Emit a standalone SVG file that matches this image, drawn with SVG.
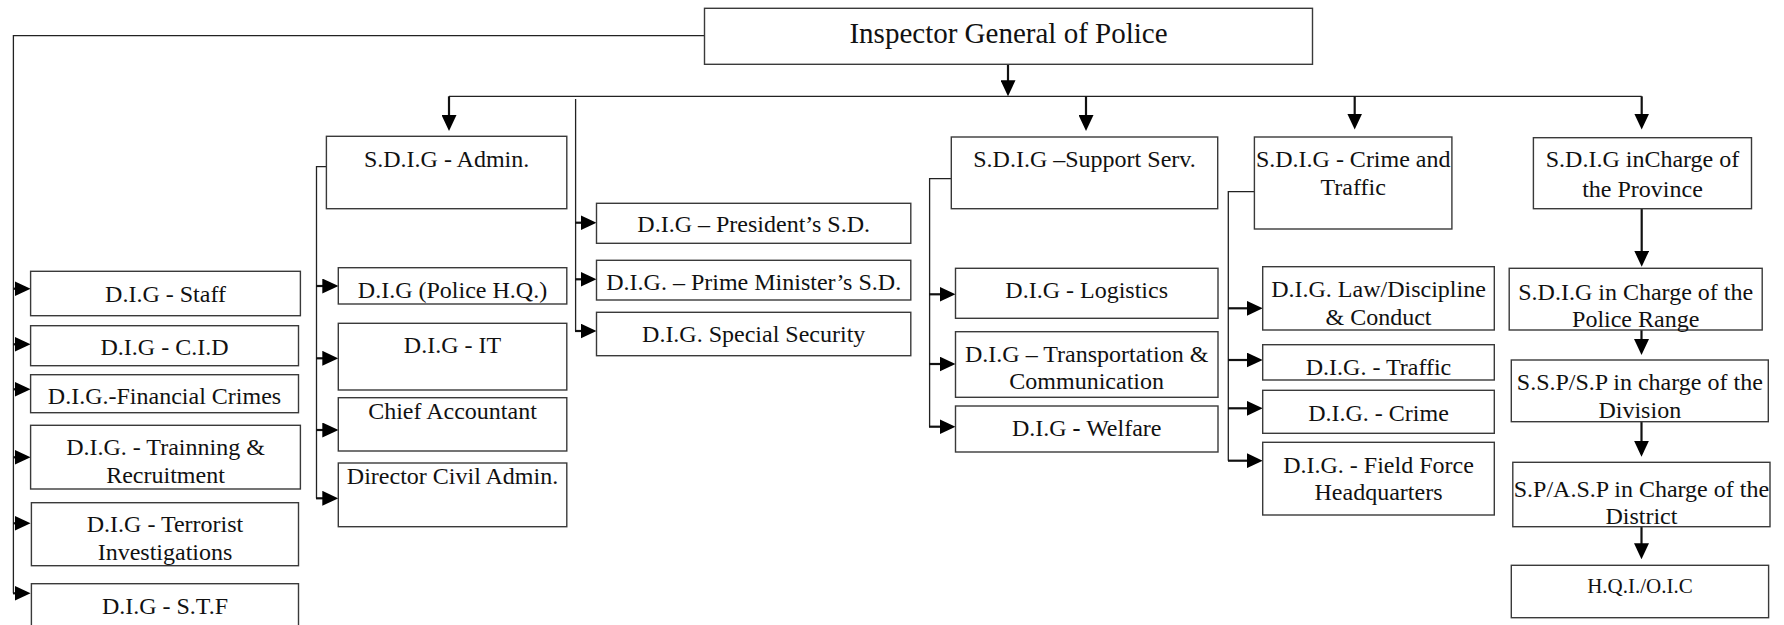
<svg xmlns="http://www.w3.org/2000/svg" width="1784" height="625" viewBox="0 0 1784 625">
  <style>
    .box { fill: #ffffff; stroke: #3a3a3a; stroke-width: 1.4; }
    .lbl { font-family: "Liberation Serif", "Times New Roman", serif; font-size: 24px; fill: #111; text-anchor: middle; }
    .big { font-size: 29px; }
    .sm { font-size: 21px; }
    .wire { fill: none; stroke: #222; stroke-width: 1.3; }
    .stub { fill: none; stroke: #111; stroke-width: 2.2; marker-end: url(#head); }
  </style>
  <defs>
    <marker id="head" markerUnits="userSpaceOnUse" viewBox="0 0 16 15" markerWidth="16" markerHeight="15" refX="8" refY="7.5" orient="auto">
      <path d="M0,0 L16,7.5 L0,15 z" fill="#000"/>
    </marker>
  </defs>

  <rect width="1784" height="625" fill="#ffffff"/>

  <!-- connectors -->
  <g id="connectors">
    <!-- IGP to left-hand column -->
    <path class="wire" d="M704.5,35.7 H13.4 V593.3"/>
    <path class="stub" d="M13,288.7 H22.6"/>
    <path class="stub" d="M13,344.3 H22.6"/>
    <path class="stub" d="M13,389.3 H22.6"/>
    <path class="stub" d="M13,457.3 H22.6"/>
    <path class="stub" d="M13,523.3 H22.6"/>
    <path class="stub" d="M13,593.3 H22.6"/>

    <!-- IGP down to the distribution bar -->
    <path class="stub" d="M1008,64.3 V88.3"/>
    <path class="wire" d="M449,96.3 H1641.7"/>
    <path class="stub" d="M449,96.3 V123"/>
    <path class="stub" d="M1086,96.3 V123"/>
    <path class="stub" d="M1354.7,96.3 V121.5"/>
    <path class="stub" d="M1641.7,96.3 V121.5"/>

    <!-- security divisions -->
    <path class="wire" d="M575.6,99 V331"/>
    <path class="stub" d="M575,222.7 H588.5"/>
    <path class="stub" d="M575,279.3 H588.5"/>
    <path class="stub" d="M575,331 H588.5"/>

    <!-- admin branch -->
    <path class="wire" d="M326.4,166.7 H316.5 V498.3"/>
    <path class="stub" d="M316,286 H330.3"/>
    <path class="stub" d="M316,358.3 H330.3"/>
    <path class="stub" d="M316,430 H330.3"/>
    <path class="stub" d="M316,498.3 H330.3"/>

    <!-- support services branch -->
    <path class="wire" d="M951.3,178.7 H929.6 V426.7"/>
    <path class="stub" d="M929,294.3 H947.5"/>
    <path class="stub" d="M929,364 H947.5"/>
    <path class="stub" d="M929,426.7 H947.5"/>

    <!-- crime and traffic branch -->
    <path class="wire" d="M1254.4,191.7 H1228.3 V460.7"/>
    <path class="stub" d="M1228,308.3 H1254.7"/>
    <path class="stub" d="M1228,360 H1254.7"/>
    <path class="stub" d="M1228,408.3 H1254.7"/>
    <path class="stub" d="M1228,460.7 H1254.7"/>

    <!-- provincial chain of command -->
    <path class="stub" d="M1641.7,208.7 V258.7"/>
    <path class="stub" d="M1641.5,315 V347"/>
    <path class="stub" d="M1641.5,421.7 V448.7"/>
    <path class="stub" d="M1641.5,521.7 V551.3"/>
  </g>

  <!-- top -->
  <g id="igp">
    <rect class="box" x="704.5" y="8.3" width="608" height="56"/>
    <text class="lbl big" x="1008.5" y="43.3">Inspector General of Police</text>
  </g>

  <!-- left-hand column -->
  <g id="dig-staff">
    <rect class="box" x="30.6" y="271.3" width="269.8" height="44.4"/>
    <text class="lbl" x="165.5" y="301.7">D.I.G - Staff</text>
  </g>
  <g id="dig-cid">
    <rect class="box" x="30.6" y="325.7" width="267.9" height="40"/>
    <text class="lbl" x="164.5" y="355">D.I.G - C.I.D</text>
  </g>
  <g id="dig-financial">
    <rect class="box" x="30.6" y="374.7" width="267.9" height="38"/>
    <text class="lbl" x="164.5" y="404.3">D.I.G.-Financial Crimes</text>
  </g>
  <g id="dig-training">
    <rect class="box" x="30.6" y="425.3" width="269.8" height="63.7"/>
    <text class="lbl" x="165.5" y="455.3">D.I.G. - Trainning &amp;</text>
    <text class="lbl" x="165.5" y="483.3">Recruitment</text>
  </g>
  <g id="dig-terrorist">
    <rect class="box" x="31.4" y="502.7" width="267.1" height="63"/>
    <text class="lbl" x="165" y="532.3">D.I.G - Terrorist</text>
    <text class="lbl" x="165" y="560">Investigations</text>
  </g>
  <g id="dig-stf">
    <rect class="box" x="31.4" y="583.7" width="267.1" height="50"/>
    <text class="lbl" x="165" y="614.3">D.I.G - S.T.F</text>
  </g>

  <!-- admin -->
  <g id="sdig-admin">
    <rect class="box" x="326.4" y="136.3" width="240.4" height="72.4"/>
    <text class="lbl" x="446.6" y="166.7">S.D.I.G - Admin.</text>
  </g>
  <g id="dig-police-hq">
    <rect class="box" x="338.3" y="267.7" width="228.5" height="36.3"/>
    <text class="lbl" x="452.5" y="297.7">D.I.G (Police H.Q.)</text>
  </g>
  <g id="dig-it">
    <rect class="box" x="338.3" y="323.3" width="228.5" height="66.7"/>
    <text class="lbl" x="452.5" y="353.3">D.I.G - IT</text>
  </g>
  <g id="chief-accountant">
    <rect class="box" x="338.3" y="397.7" width="228.5" height="53.3"/>
    <text class="lbl" x="452.5" y="419">Chief Accountant</text>
  </g>
  <g id="director-civil-admin">
    <rect class="box" x="338.3" y="463" width="228.5" height="63.7"/>
    <text class="lbl" x="452.5" y="484.3">Director Civil Admin.</text>
  </g>

  <!-- security divisions -->
  <g id="dig-president">
    <rect class="box" x="596.5" y="203.3" width="314.3" height="40"/>
    <text class="lbl" x="753.7" y="232.3">D.I.G – President’s S.D.</text>
  </g>
  <g id="dig-prime-minister">
    <rect class="box" x="596.5" y="260.3" width="314.3" height="39.7"/>
    <text class="lbl" x="753.7" y="290">D.I.G. – Prime Minister’s S.D.</text>
  </g>
  <g id="dig-special-security">
    <rect class="box" x="596.5" y="312.3" width="314.3" height="43.4"/>
    <text class="lbl" x="753.7" y="341.7">D.I.G. Special Security</text>
  </g>

  <!-- support services -->
  <g id="sdig-support">
    <rect class="box" x="951.3" y="137" width="266.4" height="71.7"/>
    <text class="lbl" x="1084.5" y="166.7">S.D.I.G –Support Serv.</text>
  </g>
  <g id="dig-logistics">
    <rect class="box" x="955.5" y="268.3" width="262.5" height="50"/>
    <text class="lbl" x="1086.7" y="298.3">D.I.G - Logistics</text>
  </g>
  <g id="dig-transport">
    <rect class="box" x="955.5" y="331.7" width="262.5" height="65.6"/>
    <text class="lbl" x="1086.7" y="361.7">D.I.G – Transportation &amp;</text>
    <text class="lbl" x="1086.7" y="389.3">Communication</text>
  </g>
  <g id="dig-welfare">
    <rect class="box" x="955.5" y="406" width="262.5" height="46"/>
    <text class="lbl" x="1086.7" y="436">D.I.G <tspan font-weight="bold">-</tspan> Welfare</text>
  </g>

  <!-- crime and traffic -->
  <g id="sdig-crime-traffic">
    <rect class="box" x="1254.4" y="137" width="197.5" height="92"/>
    <text class="lbl" x="1353.2" y="167">S.D.I.G - Crime and</text>
    <text class="lbl" x="1353.2" y="195">Traffic</text>
  </g>
  <g id="dig-law">
    <rect class="box" x="1262.7" y="266.7" width="231.6" height="63.3"/>
    <text class="lbl" x="1378.5" y="296.7">D.I.G. Law/Discipline</text>
    <text class="lbl" x="1378.5" y="325">&amp; Conduct</text>
  </g>
  <g id="dig-traffic">
    <rect class="box" x="1262.7" y="344.7" width="231.6" height="35.3"/>
    <text class="lbl" x="1378.5" y="375">D.I.G. - Traffic</text>
  </g>
  <g id="dig-crime">
    <rect class="box" x="1262.7" y="390.3" width="231.6" height="43"/>
    <text class="lbl" x="1378.5" y="420.7">D.I.G. - Crime</text>
  </g>
  <g id="dig-field-force">
    <rect class="box" x="1262.7" y="442.3" width="231.6" height="72.7"/>
    <text class="lbl" x="1378.5" y="472.7">D.I.G. - Field Force</text>
    <text class="lbl" x="1378.5" y="500">Headquarters</text>
  </g>

  <!-- provincial chain -->
  <g id="sdig-province">
    <rect class="box" x="1533.4" y="137.7" width="218.1" height="71"/>
    <text class="lbl" x="1642.5" y="166.7">S.D.I.G inCharge of</text>
    <text class="lbl" x="1642.5" y="196.7">the Province</text>
  </g>
  <g id="sdig-range">
    <rect class="box" x="1509.2" y="268.3" width="253" height="61.7"/>
    <text class="lbl" x="1635.7" y="300">S.D.I.G in Charge of the</text>
    <text class="lbl" x="1635.7" y="326.7">Police Range</text>
  </g>
  <g id="ssp-division">
    <rect class="box" x="1511.3" y="360" width="257" height="61.7"/>
    <text class="lbl" x="1639.8" y="390">S.S.P/S.P in charge of the</text>
    <text class="lbl" x="1639.8" y="418.3">Division</text>
  </g>
  <g id="sp-district">
    <rect class="box" x="1512.8" y="462.3" width="257.2" height="64.4"/>
    <text class="lbl" x="1641.4" y="496.7">S.P/A.S.P in Charge of the</text>
    <text class="lbl" x="1641.4" y="524">District</text>
  </g>
  <g id="hqi-oic">
    <rect class="box" x="1511.3" y="565.3" width="257.3" height="52.4"/>
    <text class="lbl sm" x="1640" y="593.3">H.Q.I./O.I.C</text>
  </g>
</svg>
